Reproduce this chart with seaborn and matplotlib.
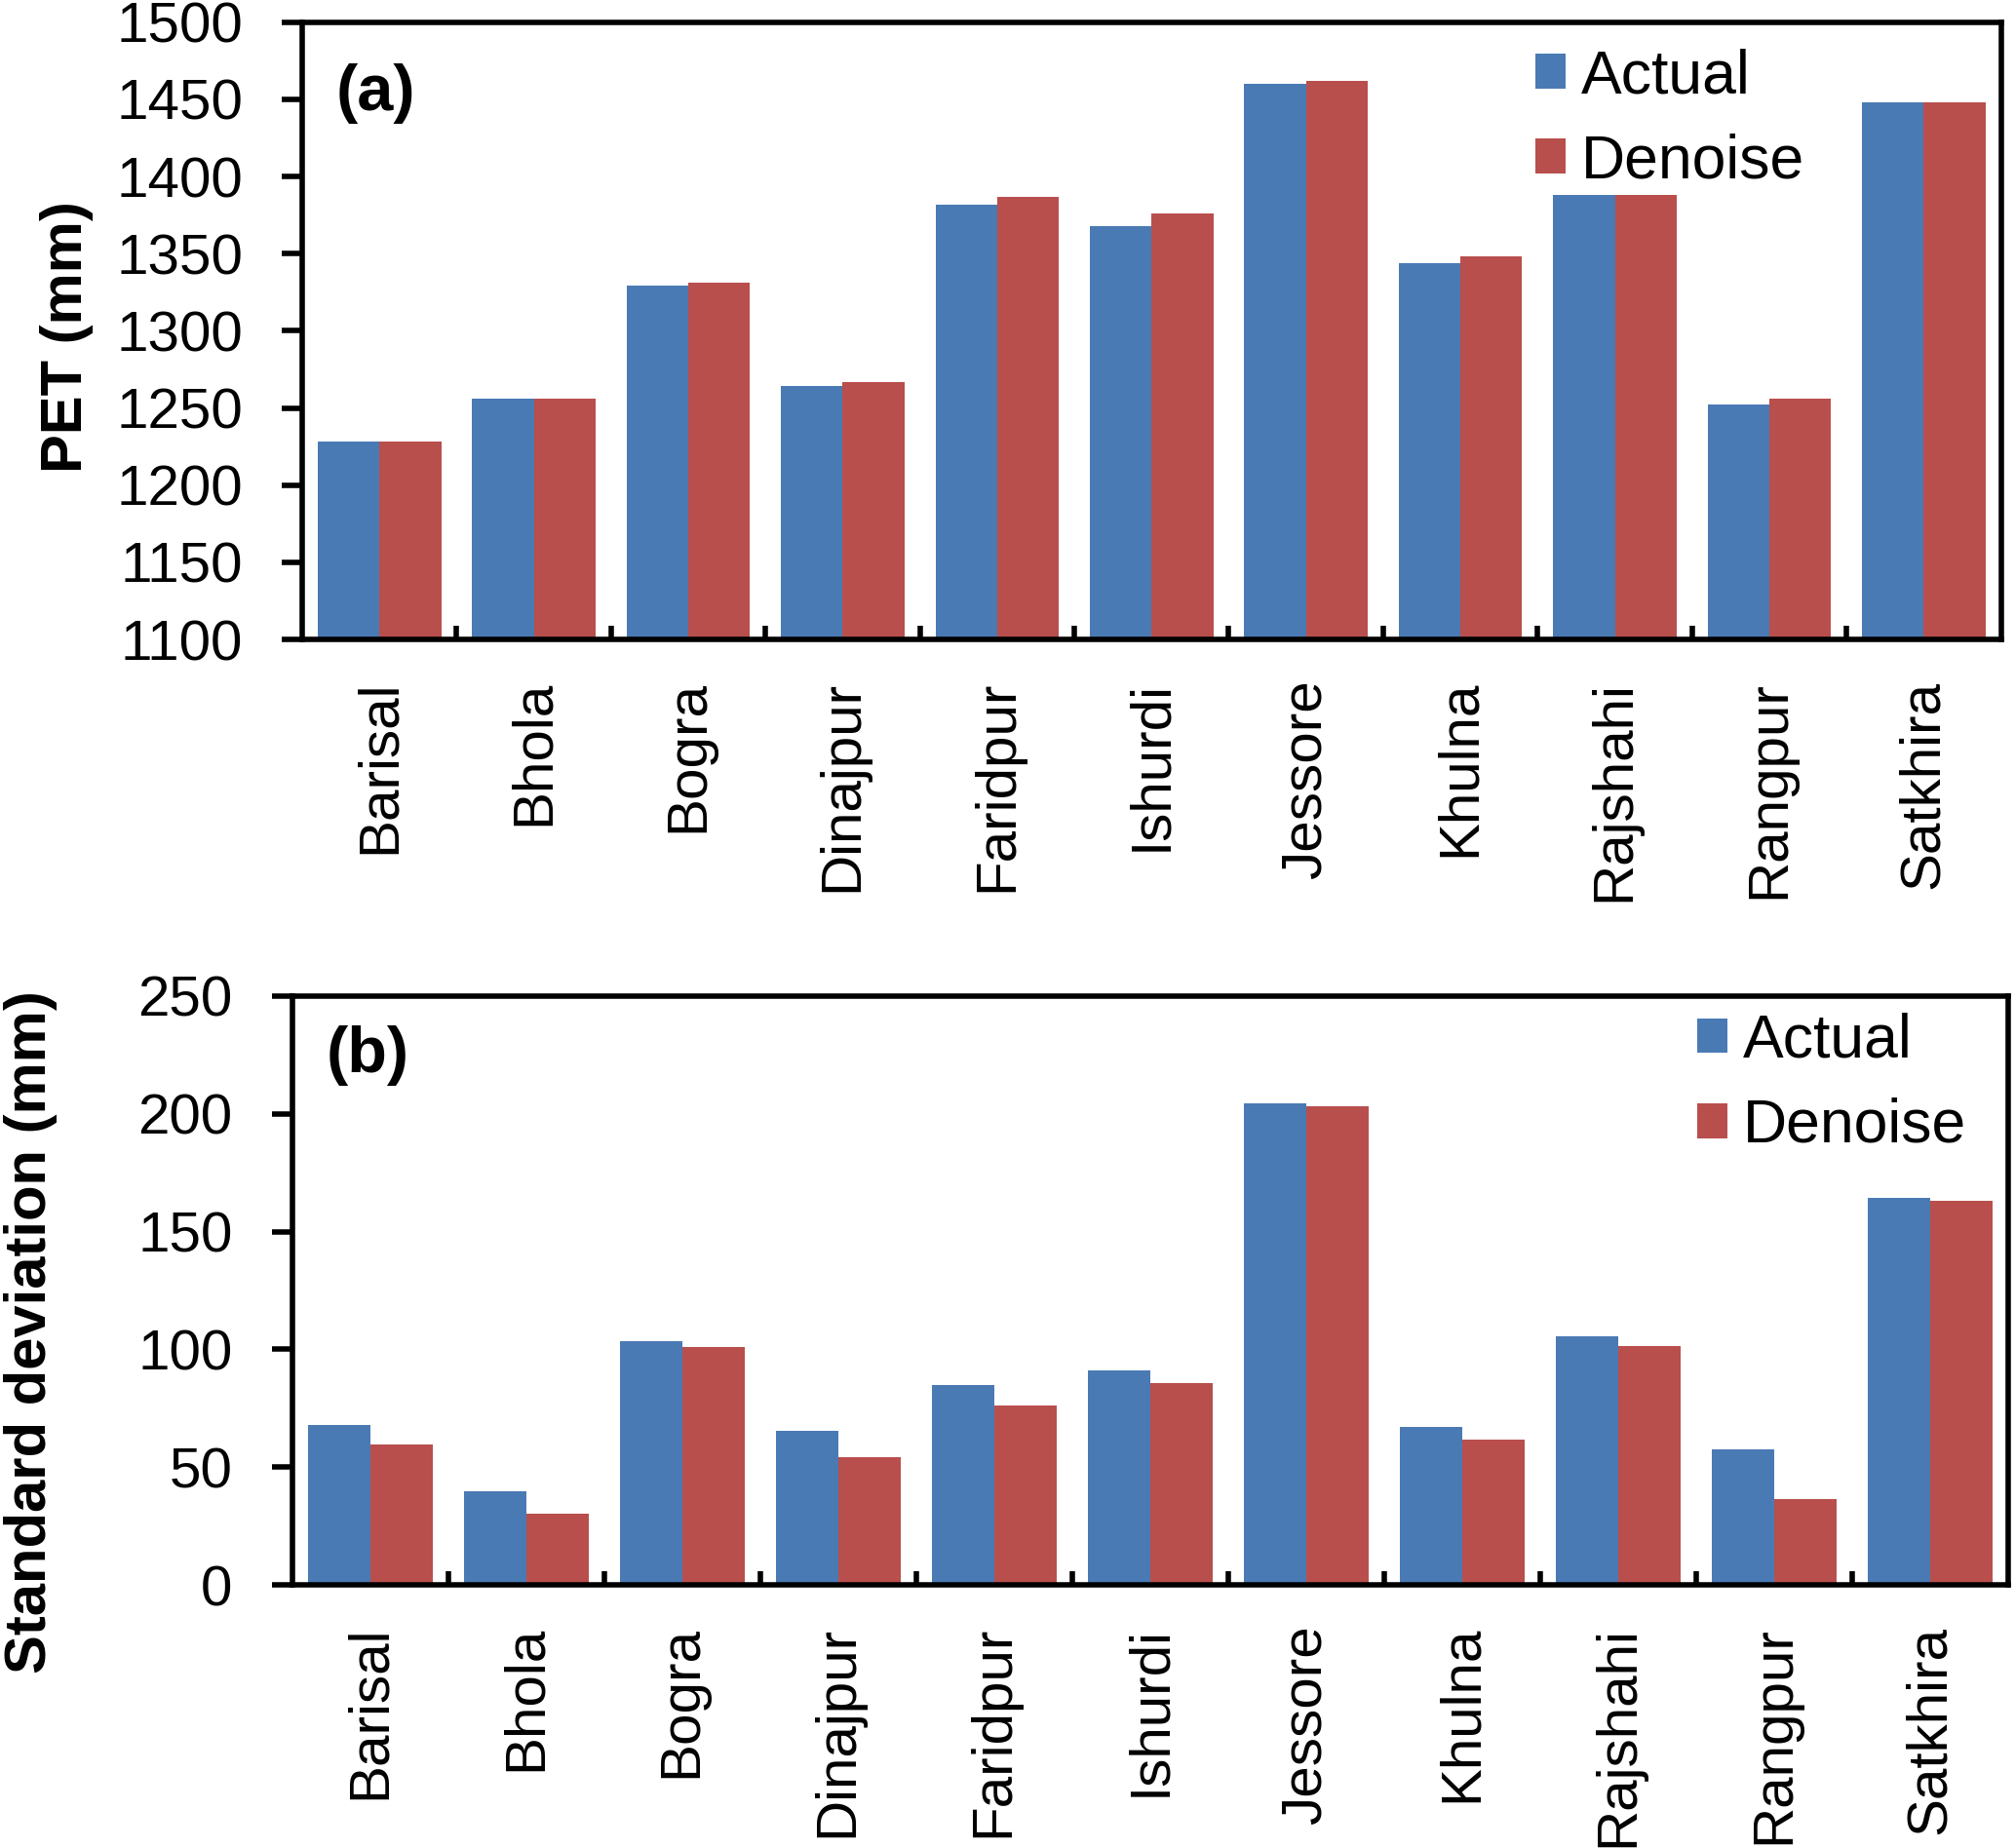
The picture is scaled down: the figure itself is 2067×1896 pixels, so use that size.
import matplotlib
matplotlib.use('Agg')
import matplotlib.pyplot as plt
import matplotlib.ticker as mticker
import numpy as np
import pandas as pd
import seaborn as sns

# ── Data ──────────────────────────────────────────────────────────────────────
stations = ["Barisal", "Bhola", "Bogra", "Dinajpur", "Faridpur", "Ishurdi",
            "Jessore", "Khulna", "Rajshahi", "Rangpur", "Satkhira"]
series = ["Actual", "Denoise"]

pet_actual  = [1228, 1256, 1329, 1264, 1382, 1368, 1460, 1344, 1388, 1252, 1448]
pet_denoise = [1228, 1256, 1331, 1267, 1387, 1376, 1462, 1348, 1388, 1256, 1448]

sd_actual  = [67.9, 39.8, 103.6, 65.2, 85.0, 90.9, 204.3, 67.0, 105.7, 57.7, 164.3]
sd_denoise = [59.8, 30.3, 100.8, 54.4, 76.2, 85.7, 203.1, 61.7, 101.5, 36.3, 163.1]

colors = ["#4A7AB4", "#B84F4D"]


def long_form(actual, denoise):
    return pd.DataFrame({
        "Station": stations * 2,
        "Series": [series[0]] * len(stations) + [series[1]] * len(stations),
        "Value": list(actual) + list(denoise),
    })


# ── Style ─────────────────────────────────────────────────────────────────────
sns.set_theme(style="ticks")
plt.rcParams['font.family'] = ['Liberation Sans', 'DejaVu Sans']
plt.rcParams['axes.linewidth'] = 4
plt.rcParams['text.color'] = 'black'
plt.rcParams['axes.labelcolor'] = 'black'

fig = plt.figure(figsize=(20.67, 18.96), dpi=100)
ax_a = fig.add_axes([0.150, 0.654, 0.843, 0.334])
ax_b = fig.add_axes([0.145, 0.1424, 0.8515, 0.3186])

panels = [
    (ax_a, long_form(pet_actual, pet_denoise), (1100, 1500), 50,
     "PET (mm)", "(a)", (-0.123, 0.49), (0.726, 0.958), 0.885),
    (ax_b, long_form(sd_actual, sd_denoise), (0, 250), 50,
     "Standard deviation (mm)", "(b)", (-0.137, 0.429), (0.819, 0.972), 0.899),
]

for ax, df, ylim, step, ylabel, tag, lab_xy, leg_xy, tag_y in panels:
    sns.barplot(data=df, x="Station", y="Value", hue="Series",
                palette=colors, width=0.8, linewidth=0, saturation=1,
                ax=ax)
    ax.set_xlim(-0.5, len(stations) - 0.5)
    ax.set_ylim(*ylim)
    ax.yaxis.set_major_locator(mticker.MultipleLocator(step))

    # y ticks outward, x ticks only at group boundaries, pointing in
    ax.tick_params(axis="y", direction="out", length=15, width=4,
                   labelsize=42, pad=29, colors="black")
    ax.tick_params(axis="x", which="major", length=0, labelsize=42,
                   pad=30, labelrotation=90, colors="black")
    ax.xaxis.set_minor_locator(mticker.FixedLocator(
        np.arange(0.5, len(stations) - 1, 1.0)))
    ax.tick_params(axis="x", which="minor", direction="in", length=10,
                   width=4, color="black")

    for sp in ax.spines.values():
        sp.set_visible(True)
        sp.set_color("black")
        sp.set_linewidth(4)

    ax.set_xlabel("")
    ax.set_ylabel(ylabel, fontsize=43, fontweight="bold", color="black")
    ax.yaxis.set_label_coords(*lab_xy)

    ax.text(0.02, tag_y, tag, transform=ax.transAxes, fontsize=48,
            fontweight="bold", ha="left", va="center", color="black")

    leg = ax.legend(title=None, frameon=False, fontsize=45, loc="upper left",
                    bbox_to_anchor=leg_xy, borderpad=0, borderaxespad=0,
                    handlelength=0.5, handleheight=0.5, handletextpad=0.25,
                    labelspacing=0.45)
    for t in leg.get_texts():
        t.set_color("black")

fig.savefig("out.png", dpi=100)
plt.close(fig)
